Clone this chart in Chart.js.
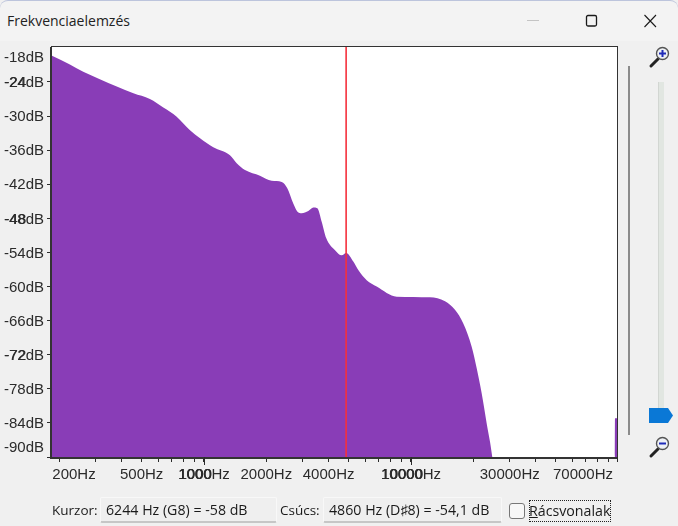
<!DOCTYPE html>
<html lang="hu">
<head>
<meta charset="utf-8">
<title>Frekvenciaelemzés</title>
<style>
html,body{margin:0;padding:0;width:678px;height:526px;overflow:hidden;background:#f0f0f0;font-family:"Open Sans","Noto Sans",sans-serif;color:#1a1a1a}
#wrap{position:relative;width:678px;height:526px}
#c{position:absolute;left:0;top:0}
.abs{position:absolute}
#titlebar{left:0;top:0;width:678px;height:41px;background:#f3f3f3;border-top:1px solid #bcc4dc;box-sizing:border-box;border-radius:8px 8px 0 0}
#title{left:7px;top:12px;font-size:14px;line-height:18px;color:#222}
.label{font-size:13.5px;line-height:18px;top:501px}
.box{top:497px;height:26px;box-sizing:border-box;background:#efefef;border:1px solid #f8f8f8;border-bottom:2px solid #c6c6c6;border-radius:2px;font-size:14.2px;line-height:24px;padding-left:5px;white-space:nowrap}
#chk{left:509px;top:503px;width:16px;height:16px;box-sizing:border-box;border:1.5px solid #777;border-radius:3px;background:#f7f7f7}
#grid{left:529px;top:500px;width:82px;height:22px;box-sizing:border-box;outline:1px dotted #222;outline-offset:-1px;font-size:14.2px;line-height:21px;white-space:nowrap}
#vbar{left:628px;top:66px;width:2px;height:369px;background:#8b8b8b}
#track{left:658px;top:82px;width:5px;height:328px;background:#e1e6e1;border-left:1px solid #d2d6d2}
</style>
</head>
<body>
<div id="wrap">
<div class="abs" id="titlebar"></div>
<div class="abs" id="title">Frekvenciaelemzés</div>
<svg class="abs" style="left:520px;top:8px" width="150" height="28" viewBox="0 0 150 28">
  <line x1="7" y1="12.5" x2="19" y2="12.5" stroke="#c4c4c4" stroke-width="1"/>
  <rect x="66.5" y="7.5" width="10" height="10.5" rx="1.5" fill="none" stroke="#1a1a1a" stroke-width="1.3"/>
  <path d="M124.5 7L136 19M136 7L124.5 19" stroke="#1a1a1a" stroke-width="1.1" fill="none"/>
</svg>
<canvas id="c" width="678" height="526"></canvas>
<div class="abs" id="vbar"></div>
<div class="abs" id="track"></div>
<svg class="abs" style="left:648px;top:407px" width="26" height="17" viewBox="0 0 26 17"><path d="M1 1H20L25 8.5L20 16H1Z" fill="#0a78d6"/></svg>
<svg class="abs" style="left:648px;top:45px" width="24" height="24" viewBox="0 0 24 24">
  <path d="M3 21L10 14" stroke="#222" stroke-width="3" stroke-linecap="round"/>
  <circle cx="14.5" cy="8.5" r="6" fill="#eef1f5" stroke="#555" stroke-width="1.4"/>
  <path d="M11 8.5H18M14.5 5V12" stroke="#1f2bb8" stroke-width="2"/>
</svg>
<svg class="abs" style="left:648px;top:435px" width="24" height="24" viewBox="0 0 24 24">
  <path d="M3 21L10 14" stroke="#222" stroke-width="3" stroke-linecap="round"/>
  <circle cx="14.5" cy="8.5" r="6" fill="#eef1f5" stroke="#555" stroke-width="1.4"/>
  <path d="M11 8.5H18" stroke="#1f2bb8" stroke-width="2"/>
</svg>
<div class="abs label" style="left:52px">Kurzor:</div>
<div class="abs box" style="left:100px;width:177px">6244 Hz (G8) = -58 dB</div>
<div class="abs label" style="left:280px">Csúcs:</div>
<div class="abs box" style="left:323px;width:179px">4860 Hz (D♯8) = -54,1 dB</div>
<div class="abs" id="chk"></div>
<div class="abs" id="grid"><span style="text-decoration:underline">R</span>ácsvonalak</div>
</div>

<script src="https://cdn.jsdelivr.net/npm/chart.js@4/dist/chart.umd.js"></script>
<script>
const frequencies = [184.4,225,261,314,379,456,548,636,738,856,957,1109,1335,1439,1578,1864,2123,2374,2526,2700,2823,2965,3191,3373,3527,3703,3898,4295,4626,4860,5264,5565,6109,6828,8529,12352,14600,16310,17890,19640,20770,21950,23210,24700,25000,96600,96700,98900];
const levels = [-19.4,-20.9,-22.2,-23.5,-24.8,-26.0,-27.0,-28.5,-30.1,-32.5,-33.9,-35.5,-36.9,-38.3,-39.5,-40.5,-41.4,-41.6,-42.7,-45.4,-46.8,-47.1,-46.7,-46.1,-46.2,-48.6,-51.5,-53.6,-54.5,-54.1,-55.6,-57.1,-58.9,-60.0,-61.8,-61.9,-62.6,-64.1,-66.5,-70.6,-74.4,-78.8,-84.1,-90.0,-92,-92,-83.2,-83.2];
const peakFrequency = 4860;
const levelTicks = [-18,-24,-30,-36,-42,-48,-54,-60,-66,-72,-78,-84,-90];
const boldLevels = [-24,-48,-72];
const freqTicks = [200,300,400,500,600,700,800,900,1000,2000,3000,4000,5000,6000,7000,8000,9000,10000,20000,30000,40000,50000,60000,70000,80000,90000];
const labeledFreqs = [200,500,1000,2000,4000,10000,30000,70000];
const boldFreqs = [1000,10000];

const AXIS_FONT = {family:'"Liberation Sans",Arial,sans-serif', size:15};
const INK = '#2b2b2b';

const axesPlugin = {
  id:'axesPlugin',
  beforeDraw(chart){
    const a = chart.chartArea, ctx = chart.ctx;
    ctx.save(); ctx.fillStyle='#fff'; ctx.fillRect(a.left,a.top,a.right-a.left,a.bottom-a.top); ctx.restore();
    // keep end labels inside the plot span, as in the reference
    chart.scales.y.getLabelItems().forEach(it=>{
      it.options.translation[1]+=1;
      if(it.label==='-18dB') it.options.translation[1]=58;
      if(it.label==='-90dB') it.options.translation[1]=448;
    });
    chart.scales.x.getLabelItems().forEach(it=>{
      if(it.label==='200Hz') it.options.translation[0]=74;
      if(it.label==='70000Hz') it.options.translation[0]=583;
    });
  },
  afterDraw(chart){
    const a = chart.chartArea, ctx = chart.ctx, sx = chart.scales.x, sy = chart.scales.y;
    ctx.save();
    ctx.strokeStyle='#333'; ctx.lineWidth=1;
    ctx.strokeRect(a.left-0.5,a.top-0.5,a.right-a.left+1,a.bottom-a.top+1);
    ctx.lineWidth=2;
    ctx.beginPath(); ctx.moveTo(a.left-1,a.top); ctx.lineTo(a.left-1,a.bottom+1); ctx.lineTo(a.right,a.bottom+1); ctx.stroke();
    // longer ticks at decades
    ctx.lineWidth=1; ctx.strokeStyle=INK;
    boldFreqs.forEach(f=>{const x=Math.round(sx.getPixelForValue(f))+0.5; ctx.beginPath(); ctx.moveTo(x,a.bottom); ctx.lineTo(x,a.bottom+8); ctx.stroke();});
    ctx.beginPath(); ctx.moveTo(a.right+0.5,a.bottom); ctx.lineTo(a.right+0.5,a.bottom+5); ctx.stroke();
    // overprinted digits on the bold labels
    ctx.fillStyle=INK; ctx.font=`${AXIS_FONT.size}px ${AXIS_FONT.family}`; ctx.textAlign='left';
    sy.getLabelItems().forEach(it=>{
      const v=parseInt(it.label,10);
      if(!boldLevels.includes(v)) return;
      const w=ctx.measureText(it.label).width;
      ctx.textBaseline='middle';
      ctx.fillText(String(v), it.options.translation[0]-w+0.6, it.options.translation[1]+it.textOffset);
    });
    sx.getLabelItems().forEach(it=>{
      const v=parseInt(it.label,10);
      if(!boldFreqs.includes(v)) return;
      const w=ctx.measureText(it.label).width;
      ctx.textBaseline=it.options.textBaseline;
      ctx.fillText(String(v), it.options.translation[0]-w/2+0.6, it.options.translation[1]+it.textOffset);
      ctx.fillText(String(v), it.options.translation[0]-w/2, it.options.translation[1]+it.textOffset);
    });
    ctx.restore();
  }
};

new Chart(document.getElementById('c'),{
  type:'scatter',
  plugins:[axesPlugin],
  data:{datasets:[
    {label:'Csúcs',data:[{x:peakFrequency,y:-90},{x:peakFrequency,y:-17.84}],showLine:true,borderColor:'#f5303c',backgroundColor:'#f5303c',borderWidth:1.6,pointRadius:0,fill:false},
    {label:'Spektrum',data:frequencies.map((f,i)=>({x:f,y:levels[i]})),showLine:true,borderWidth:0,borderColor:'#893db7',backgroundColor:'#893db7',pointRadius:0,cubicInterpolationMode:'monotone',fill:'start'}
  ]},
  options:{
    responsive:false,animation:false,
    layout:{padding:{top:47,right:61,left:0,bottom:0}},
    plugins:{legend:{display:false},tooltip:{enabled:false},title:{display:false}},
    scales:{
      x:{
        type:'logarithmic',min:184.4,max:98900,
        afterBuildTicks(s){s.ticks=freqTicks.map(v=>({value:v}));},
        afterFit(s){s.height=526-457;},
        border:{display:false},
        grid:{display:true,drawOnChartArea:false,drawTicks:true,tickLength:5,tickColor:INK},
        ticks:{autoSkip:false,maxRotation:0,minRotation:0,padding:4,color:INK,font:AXIS_FONT,
          callback(v){return labeledFreqs.includes(v)?v+'Hz':'';}}
      },
      y:{
        type:'linear',min:-90,max:-17.84,
        afterBuildTicks(s){s.ticks=levelTicks.map(v=>({value:v}));},
        afterFit(s){s.width=52;},
        border:{display:false},
        grid:{display:true,drawOnChartArea:false,drawTicks:true,tickLength:5,
          tickColor(c){return c.tick&&c.tick.value===-18?'rgba(0,0,0,0)':INK;}},
        ticks:{autoSkip:false,padding:3,color:INK,font:AXIS_FONT,
          callback(v){return v+'dB';}}
      }
    }
  }
});
</script>
</body>
</html>
